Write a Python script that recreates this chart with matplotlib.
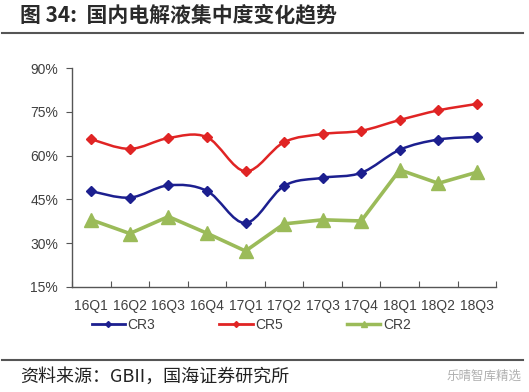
import numpy as np
import matplotlib
matplotlib.use("Agg")
import matplotlib.pyplot as plt
from matplotlib.path import Path
from matplotlib.patches import PathPatch
from matplotlib.lines import Line2D

plt.rcParams["font.family"] = ["Liberation Sans", "Noto Sans CJK SC", "DejaVu Sans"]

quarters = ["16Q1", "16Q2", "16Q3", "16Q4", "17Q1", "17Q2",
            "17Q3", "17Q4", "18Q1", "18Q2", "18Q3"]
cr3 = [47.8, 45.6, 49.8, 47.9, 36.9, 49.6, 52.4, 54.1, 62.0, 65.5, 66.4]
cr5 = [65.6, 62.3, 66.0, 66.3, 54.6, 64.6, 67.4, 68.5, 72.2, 75.5, 77.7]
cr2 = [38.0, 33.3, 39.1, 33.4, 27.3, 36.6, 38.0, 37.6, 55.1, 50.5, 54.3]
y_ticks = [15, 30, 45, 60, 75, 90]

blue = "#1c1f8f"
red = "#e02424"
green = "#9bbb59"


def smooth_path(x, y):
    # Excel-style smoothed line: Catmull-Rom segments as cubic Beziers
    p = np.column_stack([x, y]).astype(float)
    n = len(p)
    verts = [p[0]]
    codes = [Path.MOVETO]
    for i in range(n - 1):
        p0 = p[i - 1] if i > 0 else p[i]
        p3 = p[i + 2] if i + 2 < n else p[i + 1]
        c1 = p[i] + (p[i + 1] - p0) / 6
        c2 = p[i + 1] - (p3 - p[i]) / 6
        verts += [c1, c2, p[i + 1]]
        codes += [Path.CURVE4] * 3
    return Path(verts, codes)


fig = plt.figure(figsize=(5.29, 3.92), dpi=100)
ax = fig.add_axes([0.136, 0.268, 0.802, 0.5585])

x = np.arange(len(quarters))

for vals, col in [(cr5, red), (cr3, blue)]:
    ax.add_patch(PathPatch(smooth_path(x, vals), facecolor="none",
                           edgecolor=col, lw=1.8, zorder=2))
    ax.plot(x, vals, ls="none", marker="D", ms=5.5, color=col, zorder=3)
ax.plot(x, cr2, color=green, lw=2.6, marker="^", ms=10, zorder=3)

ax.set_xlim(-0.5, len(quarters) - 0.5)
ax.set_ylim(15, 90)
ax.set_yticks(y_ticks)
ax.set_yticklabels([f"{v}%" for v in y_ticks])
ax.set_xticks(np.arange(-0.5, len(quarters), 1))
ax.set_xticklabels([])
ax.set_xticks(x, minor=True)
ax.set_xticklabels(quarters, minor=True)
ax.tick_params(axis="x", which="major", direction="in", length=4, color="#555555")
ax.tick_params(axis="x", which="minor", length=0, pad=9, labelsize=10, labelcolor="#404040")
ax.tick_params(axis="y", direction="out", length=4, color="#555555",
               labelsize=10, labelcolor="#404040", pad=6)
for s in ["top", "right"]:
    ax.spines[s].set_visible(False)
for s in ["left", "bottom"]:
    ax.spines[s].set_color("#555555")
    ax.spines[s].set_linewidth(1)

handles = [Line2D([], [], color=blue, lw=2, marker="D", ms=3),
           Line2D([], [], color=red, lw=2, marker="D", ms=3),
           Line2D([], [], color=green, lw=2.5, marker="^", ms=5)]
fig.legend(handles, ["CR3", "CR5", "CR2"], loc="center", bbox_to_anchor=(0.475, 0.171),
           ncol=3, frameon=False, fontsize=10, handlelength=2.4, handletextpad=0.2,
           columnspacing=4.6, labelcolor="#404040")

fig.text(0.038, 0.962, "图 34:  国内电解液集中度变化趋势", fontsize=15, fontweight="bold",
         family=["Noto Sans CJK SC", "DejaVu Sans"], va="center", color="#2a2a2a")
fig.add_artist(Line2D([0.004, 0.988], [0.916, 0.916], color="#555555", lw=1.5))
fig.add_artist(Line2D([0.004, 0.988], [0.082, 0.082], color="#555555", lw=1.5))
fig.text(0.038, 0.040, "资料来源：GBII，国海证券研究所", fontsize=13,
         family=["Noto Sans CJK SC", "DejaVu Sans"], va="center", color="#222222")
fig.text(0.985, 0.040, "乐晴智库精选", fontsize=9, ha="right",
         family=["Noto Sans CJK SC", "DejaVu Sans"], va="center", color="#b0b0b0")

fig.savefig("out.png", dpi=100)
